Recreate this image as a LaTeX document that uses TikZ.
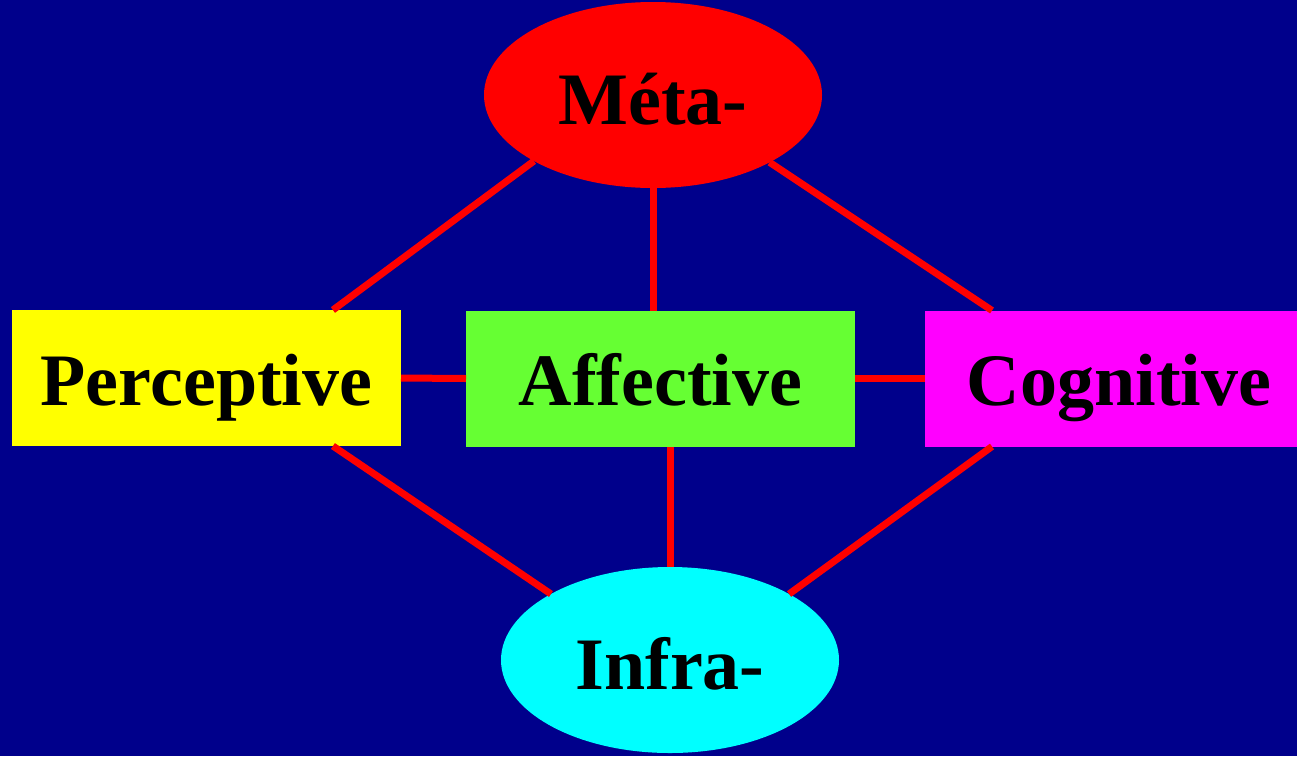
\documentclass[tikz,border=0pt]{standalone}
\usepackage{fontspec}
\setmainfont{Liberation Serif}
\usepackage{tikz}
\usetikzlibrary{shapes.geometric}
\usetikzlibrary{calc}

\definecolor{bgblue}{RGB}{0,0,139}
\definecolor{leafgreen}{RGB}{102,255,51}
\definecolor{lemon}{RGB}{255,255,0}
\definecolor{aqua}{RGB}{0,255,255}
\definecolor{fuchsia}{RGB}{255,0,255}
\definecolor{scarlet}{RGB}{255,0,0}

\tikzset{
  box/.style={rectangle, minimum width=389, minimum height=136, inner sep=0, outer sep=0,
    text height=62, text depth=8, font=\fontsize{74}{80}\selectfont\bfseries},
  oval/.style={ellipse, minimum width=338, minimum height=186, inner sep=0, outer sep=0,
    text height=64, text depth=6, font=\fontsize{74}{80}\selectfont\bfseries},
  link/.style={draw=scarlet, line width=7pt}
}

\begin{document}
\begin{tikzpicture}[x=1pt,y=-1pt]
\fill[bgblue] (0,0) rectangle (1297,756);
\useasboundingbox (0,0) rectangle (1297,756);

\node[oval, fill=scarlet] (meta) at (653,95) {Méta-};
\node[oval, fill=aqua] (infra) at (670,660) {Infra-};

\node[box, fill=lemon] (per) at (206.5,378) {Perceptive};
\node[box, fill=leafgreen] (aff) at (660.5,378.5) {Affective};
\node[box, fill=fuchsia] (cog) at (1119,378.5) {Cognitive};

\coordinate (perup) at ($(per.north)!0.65!(per.north east)$);
\coordinate (perdown) at ($(per.south)!0.65!(per.south east)$);
\coordinate (cogup) at ($(cog.north)!0.653!(cog.north west)$);
\coordinate (cogdown) at ($(cog.south)!0.653!(cog.south west)$);

\draw[link] (meta.209.6) -- (perup);
\draw[link] (meta.330.6) -- (cogup);
\draw[link] (meta.south) -- (meta.south |- aff.north);
\draw[link] (per.east) -- (aff.west);
\draw[link] (aff.east) -- (aff.east -| cog.west);
\draw[link] (perdown) -- (infra.151);
\draw[link] (cogdown) -- (infra.29);
\draw[link] (infra.north) -- (infra.north |- aff.south);
\end{tikzpicture}
\end{document}
